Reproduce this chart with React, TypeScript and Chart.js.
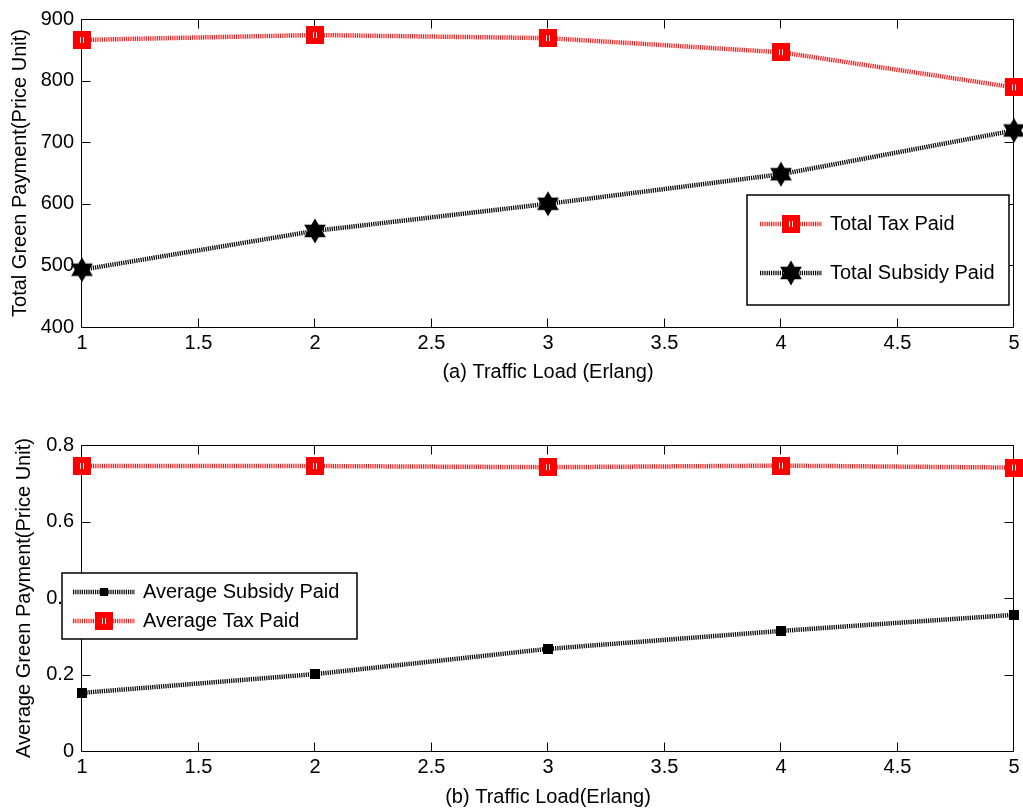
import React, { useEffect, useRef } from "react";
import { Chart, registerables } from "chart.js";
Chart.register(...registerables);

// ---------- data ----------
const trafficLoad = [1, 2, 3, 4, 5];
const totalTaxPaid = [866, 874, 869, 846, 789];
const totalSubsidyPaid = [493, 556, 600, 648, 719];
const avgSubsidyPaid = [0.152, 0.201, 0.267, 0.314, 0.356];
const avgTaxPaid = [0.745, 0.745, 0.742, 0.746, 0.741];
const xTickValues = [1, 1.5, 2, 2.5, 3, 3.5, 4, 4.5, 5];
const topYTickValues = [400, 500, 600, 700, 800, 900];
const bottomYTickValues = [0, 0.2, 0.4, 0.6, 0.8];

const FONT = "'Liberation Sans', Arial, Helvetica, sans-serif";
const W = 1023;

function makeCanvas(w: number, h: number, draw: (c: CanvasRenderingContext2D) => void) {
  const c = document.createElement("canvas");
  c.width = w;
  c.height = h;
  const ctx = c.getContext("2d")!;
  draw(ctx);
  return c;
}

function redSquare() {
  return makeCanvas(18, 18, (c) => {
    c.fillStyle = "#ff0000";
    c.fillRect(0, 0, 18, 18);
    c.fillStyle = "#ffffff";
    c.fillRect(7, 6, 1, 6);
    c.fillRect(10, 6, 1, 6);
  });
}
function hexagram() {
  return makeCanvas(26, 26, (c) => {
    const cx = 13, cy = 13, r = 12.5;
    c.fillStyle = "#000";
    for (const off of [-Math.PI / 2, Math.PI / 2]) {
      c.beginPath();
      for (let k = 0; k < 3; k++) {
        const a = off + (k * 2 * Math.PI) / 3;
        const x = cx + r * Math.cos(a), y = cy + r * Math.sin(a);
        if (k === 0) c.moveTo(x, y);
        else c.lineTo(x, y);
      }
      c.closePath();
      c.fill();
    }
  });
}
function blackSquare(s: number) {
  return makeCanvas(s, s, (c) => {
    c.fillStyle = "#000";
    c.fillRect(0, 0, s, s);
  });
}

const framePlugin = (tickLen: number) => ({
  id: "frame",
  beforeDatasetsDraw(chart: any) {
    const { ctx, chartArea: a, scales } = chart;
    ctx.save();
    ctx.strokeStyle = "#000";
    ctx.lineWidth = 1;
    const L = Math.round(a.left) - 0.5, R = Math.round(a.right) - 0.5;
    const T = Math.round(a.top) + 0.5, B = Math.round(a.bottom) + 0.5;
    ctx.beginPath();
    ctx.rect(L, T, R - L, B - T);
    ctx.stroke();
    ctx.beginPath();
    scales.x.ticks.forEach((t: any) => {
      const px = Math.round(scales.x.getPixelForValue(t.value)) - 0.5;
      ctx.moveTo(px, B);
      ctx.lineTo(px, B - tickLen);
      ctx.moveTo(px, T);
      ctx.lineTo(px, T + tickLen);
    });
    scales.y.ticks.forEach((t: any) => {
      const py = Math.round(scales.y.getPixelForValue(t.value)) + 0.5;
      ctx.moveTo(L, py);
      ctx.lineTo(L + tickLen, py);
      ctx.moveTo(R, py);
      ctx.lineTo(R - tickLen, py);
    });
    ctx.stroke();
    ctx.restore();
  },
});

type LegendItem = { label: string; ds: number; y: number; img: HTMLCanvasElement };
const legendPlugin = (
  box: { x: number; y: number; w: number; h: number; lx0: number; lx1: number; tx: number },
  items: LegendItem[]
) => ({
  id: "customLegend",
  afterDraw(chart: any) {
    const ctx = chart.ctx as CanvasRenderingContext2D;
    ctx.save();
    ctx.fillStyle = "#fff";
    ctx.fillRect(box.x, box.y, box.w, box.h);
    ctx.strokeStyle = "#000";
    ctx.lineWidth = 1.5;
    ctx.strokeRect(box.x, box.y, box.w, box.h);
    items.forEach((it) => {
      const ds = chart.data.datasets[it.ds];
      ctx.save();
      ctx.strokeStyle = ds.borderColor;
      ctx.lineWidth = ds.borderWidth;
      ctx.setLineDash(ds.borderDash || []);
      ctx.beginPath();
      ctx.moveTo(box.lx0, it.y);
      ctx.lineTo(box.lx1, it.y);
      ctx.stroke();
      ctx.restore();
      const mx = (box.lx0 + box.lx1) / 2;
      ctx.drawImage(it.img, Math.round(mx - it.img.width / 2), Math.round(it.y - it.img.height / 2));
      ctx.fillStyle = "#000";
      ctx.font = `20px ${FONT}`;
      ctx.textBaseline = "middle";
      ctx.textAlign = "left";
      ctx.fillText(it.label, box.tx, it.y);
    });
    ctx.restore();
  },
});

function buildConfig(opts: {
  datasets: any[];
  yTicks: number[];
  yTitle: string;
  xTitle: string;
  yTitlePad: number;
  xTitlePad: number;
  padTop: number;
  xAxisHeight: number;
  plugins: any[];
}) {
  return {
    type: "line" as const,
    data: { datasets: opts.datasets },
    options: {
      responsive: false,
      animation: false as const,
      events: [],
      layout: { autoPadding: false, padding: { top: opts.padTop, right: 9, left: 0, bottom: 0 } },
      plugins: { legend: { display: false }, tooltip: { enabled: false } },
      scales: {
        x: {
          type: "linear" as const,
          min: 1,
          max: 5,
          offset: false,
          afterBuildTicks: (s: any) => {
            s.ticks = xTickValues.map((v) => ({ value: v }));
          },
          afterFit: (s: any) => {
            s.height = opts.xAxisHeight;
            s.paddingLeft = 0;
            s.paddingRight = 0;
          },
          grid: { display: false, drawTicks: false },
          border: { display: false },
          ticks: {
            color: "#000",
            font: { family: FONT, size: 20 },
            padding: 4,
            maxRotation: 0,
            autoSkip: false,
            callback: (v: any) => String(v),
          },
          title: {
            display: true,
            text: opts.xTitle,
            color: "#000",
            font: { family: FONT, size: 20, lineHeight: 1.2 },
            padding: { top: 0, bottom: opts.xTitlePad },
          },
        },
        y: {
          type: "linear" as const,
          min: opts.yTicks[0],
          max: opts.yTicks[opts.yTicks.length - 1],
          afterBuildTicks: (s: any) => {
            s.ticks = opts.yTicks.map((v) => ({ value: v }));
          },
          afterFit: (s: any) => {
            s.width = 82;
            s.paddingTop = 0;
            s.paddingBottom = 0;
          },
          grid: { display: false, drawTicks: false },
          border: { display: false },
          ticks: {
            color: "#000",
            font: { family: FONT, size: 20 },
            padding: 8,
            autoSkip: false,
            callback: (v: any) => String(v),
          },
          title: {
            display: true,
            text: opts.yTitle,
            color: "#000",
            font: { family: FONT, size: 20, lineHeight: 1.2 },
            padding: { top: opts.yTitlePad, bottom: 0 },
          },
        },
      },
    },
    plugins: opts.plugins,
  };
}

function ChartCanvas({ height, top, make }: { height: number; top: number; make: () => any }) {
  const ref = useRef<HTMLCanvasElement>(null);
  useEffect(() => {
    if (!ref.current) return;
    const chart = new Chart(ref.current, make());
    return () => chart.destroy();
  }, []);
  return (
    <canvas
      ref={ref}
      width={W}
      height={height}
      style={{ position: "absolute", left: 0, top, width: W, height }}
    />
  );
}

const redLine = { borderColor: "#ff1a1a", borderWidth: 4.5, borderDash: [1.2, 1] };
const blackLine = { borderColor: "#000000", borderWidth: 4.5, borderDash: [1.2, 1] };

function pts(ys: number[]) {
  return trafficLoad.map((x, i) => ({ x, y: ys[i] }));
}

export default function App() {
  const makeTop = () => {
    const sq = redSquare();
    const star = hexagram();
    const datasets = [
      { label: "Total Tax Paid", data: pts(totalTaxPaid), ...redLine, pointStyle: sq, pointRadius: 9, clip: false, tension: 0 },
      { label: "Total Subsidy Paid", data: pts(totalSubsidyPaid), ...blackLine, pointStyle: star, pointRadius: 12, clip: false, tension: 0 },
    ];
    return buildConfig({
      datasets,
      yTicks: topYTickValues,
      yTitle: "Total Green Payment(Price Unit)",
      xTitle: "(a) Traffic Load (Erlang)",
      yTitlePad: 8,
      xTitlePad: 16,
      padTop: 19,
      xAxisHeight: 73,
      plugins: [
        framePlugin(9),
        legendPlugin({ x: 747, y: 195, w: 262, h: 110, lx0: 760, lx1: 822, tx: 830 }, [
          { label: "Total Tax Paid", ds: 0, y: 224, img: sq },
          { label: "Total Subsidy Paid", ds: 1, y: 273, img: star },
        ]),
      ],
    });
  };
  const makeBottom = () => {
    const sq = redSquare();
    const bs = blackSquare(10);
    const bsL = blackSquare(8);
    const datasets = [
      { label: "Average Subsidy Paid", data: pts(avgSubsidyPaid), ...blackLine, pointStyle: bs, pointRadius: 5, clip: false, tension: 0 },
      { label: "Average Tax Paid", data: pts(avgTaxPaid), ...redLine, pointStyle: sq, pointRadius: 9, clip: false, tension: 0 },
    ];
    return buildConfig({
      datasets,
      yTicks: bottomYTickValues,
      yTitle: "Average Green Payment(Price Unit)",
      xTitle: "(b) Traffic Load(Erlang)",
      yTitlePad: 12,
      xTitlePad: 1,
      padTop: 25,
      xAxisHeight: 59,
      plugins: [
        framePlugin(9),
        legendPlugin({ x: 62, y: 153, w: 295, h: 66, lx0: 73, lx1: 135, tx: 143 }, [
          { label: "Average Subsidy Paid", ds: 0, y: 172, img: bsL },
          { label: "Average Tax Paid", ds: 1, y: 201, img: sq },
        ]),
      ],
    });
  };
  return (
    <div style={{ position: "fixed", left: 0, top: 0, width: W, height: 810, background: "#fff" }}>
      <ChartCanvas height={400} top={0} make={makeTop} />
      <ChartCanvas height={390} top={420} make={makeBottom} />
    </div>
  );
}
